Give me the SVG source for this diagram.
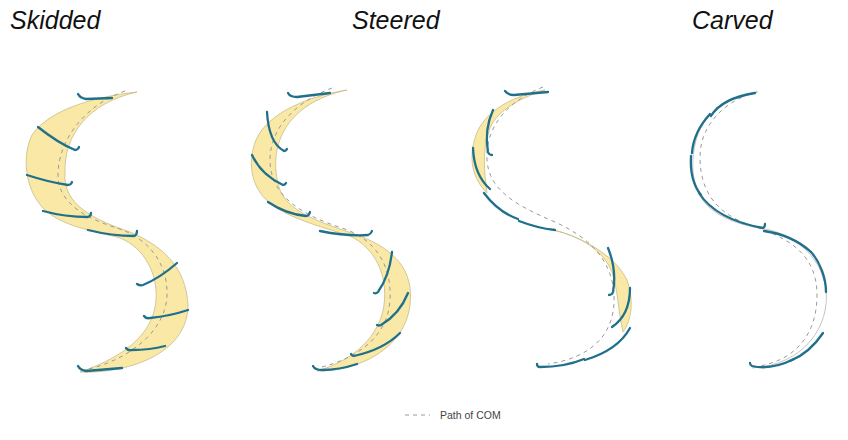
<svg xmlns="http://www.w3.org/2000/svg" width="848" height="440" viewBox="0 0 848 440">
<style>
.title{font-family:"Liberation Sans",Arial,sans-serif;font-style:italic;font-size:25px;fill:#111}
.band{fill:#fae9a6;stroke:#c8bb86;stroke-width:0.8}
.com{fill:none;stroke:#9a9a9a;stroke-width:1;stroke-dasharray:4 4}
.ski{fill:none;stroke:#21708b;stroke-width:2.3;stroke-linecap:round;stroke-linejoin:round}
.edge{fill:none;stroke:#c4c4c4;stroke-width:1}
.legend{font-family:"Liberation Sans",Arial,sans-serif;font-size:10.5px;fill:#444}
</style>
<rect width="848" height="440" fill="#fff"/>
<text class="title" x="10" y="29">Skidded</text>
<text class="title" x="352" y="29">Steered</text>
<text class="title" x="692" y="29">Carved</text>

<g id="skidded">
<path class="band" d="M137,92 C100,96 50,108 32,135 C22,155 24,190 45,210 C65,228 100,232 120,238 C145,248 158,275 156,300 C154,330 130,355 80,372 C125,374 188,355 188,305 C186,265 160,245 130,232 C95,220 62,205 65,172 C64,135 88,103 137,92 Z"/>
<path class="com" d="M125,91 C85,105 58,140 58,175 C58,205 90,220 120,229 C150,240 168,265 167,295 C166,335 120,365 78,371"/>
<path class="ski" d="M78,94 q2,4 8,5 L112,98"/>
<path class="ski" d="M38,127 Q58,143 75,150 q3,0 4,-3"/>
<path class="ski" d="M27,175 Q48,182 68,185 q3,0 4,-3"/>
<path class="ski" d="M43,211 Q65,217 88,217 q3,-1 3,-4"/>
<path class="ski" d="M88,230 Q112,236 134,236 q3,-1 3,-5"/>
<path class="ski" d="M137,284 q3,2 6,1 Q160,278 177,263"/>
<path class="ski" d="M144,316 q2,3 6,2 Q170,316 188,310"/>
<path class="ski" d="M126,348 q2,3 6,2 Q150,350 165,346"/>
<path class="ski" d="M78,366 q2,4 8,5 L122,368"/>
</g>

<g id="steered">
<path class="band" d="M347,90 C310,96 268,112 256,140 C246,165 252,192 275,207 C295,220 325,228 350,236 C375,248 388,275 384,305 C380,335 355,360 317,371 C355,372 405,350 410,305 C414,270 395,250 360,236 C330,225 290,215 280,190 C268,155 278,105 347,90 Z"/>
<path class="com" d="M332,88 C300,100 270,125 270,160 C270,195 300,215 345,229 C375,240 392,265 390,300 C388,335 360,358 318,368"/>
<path class="ski" d="M288,93 q2,4 9,4 L330,93"/>
<path class="ski" d="M267,112 C268,130 273,145 284,151 q2,0 3,-2"/>
<path class="ski" d="M252,155 C258,168 268,178 283,185 q2,0 3,-2"/>
<path class="ski" d="M268,202 C280,210 295,215 306,216 q3,0 4,-4"/>
<path class="ski" d="M320,231 C340,235 355,236 368,235 q3,-1 4,-4"/>
<path class="ski" d="M392,252 C390,270 385,282 378,292 q-2,2 -4,1"/>
<path class="ski" d="M408,293 C402,308 393,318 381,325 q-2,1 -4,0"/>
<path class="ski" d="M400,333 C388,345 372,352 354,356 q-2,0 -3,-2"/>
<path class="ski" d="M313,366 q2,4 9,4 C335,370 345,368 357,364"/>
</g>

<g id="mixed">
<path class="band" d="M545,90 C515,95 485,110 476,135 C468,158 472,178 487,193 C484,170 482,150 490,128 C498,110 520,98 545,90 Z"/>
<path class="band" d="M553,230 C580,236 615,255 627,280 C634,300 632,320 623,332 C618,310 618,290 612,272 C603,250 580,236 553,230 Z"/>
<path class="com" d="M543,87 C510,100 485,125 487,160 C489,190 515,205 555,222 C590,238 612,260 614,295 C616,335 590,358 548,364"/>
<path class="ski" d="M505,91 q3,4 9,4 L548,92"/>
<path class="ski" d="M493,110 Q484,130 488,152 q1,3 4,3"/>
<path class="ski" d="M473,148 Q474,175 490,189"/>
<path class="ski" d="M484,193 Q498,212 518,219"/>
<path class="ski" d="M519,221 Q537,228 555,230"/>
<path class="ski" d="M608,248 Q617,270 613,292 q-1,3 -4,3"/>
<path class="ski" d="M630,288 Q630,315 612,327"/>
<path class="ski" d="M630,328 Q618,350 585,360"/>
<path class="ski" d="M584,359 Q565,367 540,367 q-3,0 -3,-3"/>
</g>

<g id="carved">
<path class="edge" d="M758,92 C730,96 705,112 697,137 C690,160 691,185 705,203 C720,220 745,226 770,230 C800,238 822,260 826,290 C830,325 805,365 752,368"/>
<path class="com" d="M757,92 C725,100 700,125 700,157 C700,190 715,213 750,225 C790,238 817,255 817,295 C817,335 795,362 753,367"/>
<path class="ski" d="M711,116 C717,106 730,97 755,93"/>
<path class="ski" d="M710,114 C700,125 693,138 692,153"/>
<path class="ski" d="M691,156 C690,172 693,185 701,195"/>
<path class="ski" d="M699,193 C710,210 730,222 763,228 q2,-1 2,-4"/>
<path class="ski" d="M764,231 C785,234 800,242 811,252"/>
<path class="ski" d="M811,252 C820,262 826,278 826,292"/>
<path class="ski" d="M823,333 C815,345 805,355 790,361"/>
<path class="ski" d="M794,359 C780,366 765,369 752,366 q-2,-1 -2,-3"/>
</g>

<g id="legend">
<line class="com" x1="405" y1="415" x2="430" y2="415"/>
<text class="legend" x="440" y="419">Path of COM</text>
</g>
</svg>
